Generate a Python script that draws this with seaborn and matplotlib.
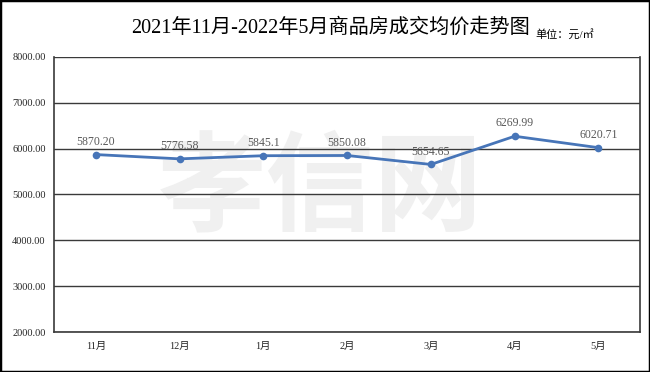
import pandas as pd
import matplotlib.pyplot as plt
import seaborn as sns
import numpy as np
from matplotlib.patches import Rectangle

months = ['11月', '12月', '1月', '2月', '3月', '4月', '5月']
prices = [5870.20, 5776.58, 5845.1, 5850.08, 5654.65, 6269.99, 6020.71]
price_labels = ['5870.20', '5776.58', '5845.1', '5850.08', '5654.65', '6269.99', '6020.71']
y_ticks = [2000, 3000, 4000, 5000, 6000, 7000, 8000]

sns.set_style('white')
plt.rcParams['font.family'] = ['Liberation Serif', 'Noto Sans CJK SC', 'DejaVu Sans']

df = pd.DataFrame({'pos': np.arange(len(months)), 'price': prices})

fig = plt.figure(figsize=(6.5, 3.72), dpi=100)
ax = fig.add_axes([0.083, 0.1075, 0.902, 0.7395])

# watermark
ax.text(2.68, 5100, '孝信网', fontsize=78, color='#f0f0f0', ha='center', va='center',
        family=['Noto Sans CJK SC'], fontweight='bold', zorder=0)

for v in y_ticks:
    ax.axhline(v, color='#3a3a3a', lw=1.0, zorder=1)

sns.lineplot(data=df, x='pos', y='price', ax=ax, color='#4775b8', lw=2,
             marker='o', markersize=5.5, markeredgewidth=0, zorder=3)

for i, (p, lab) in enumerate(zip(prices, price_labels)):
    ax.annotate(lab, (i, p), xytext=(0, 5), textcoords='offset points',
                ha='center', va='bottom', fontsize=8.5, color='#595959')

ax.set_xlim(-0.5, len(months) - 0.5)
ax.set_ylim(2000, 8000)
ax.set_yticks(y_ticks)
ax.set_yticklabels([f'{v:.2f}' for v in y_ticks], fontsize=7.5)
ax.set_xticks(df['pos'])
ax.set_xticklabels(months, fontsize=7.5)
ax.set_xticks(np.arange(-0.5, len(months)), minor=True)
ax.tick_params(axis='x', which='major', length=0, pad=7)
ax.tick_params(axis='x', which='minor', length=4, width=1, color='#3a3a3a', direction='out')
ax.tick_params(axis='y', length=4, width=1, color='#3a3a3a', direction='out', pad=2)
ax.set_xlabel('')
ax.set_ylabel('')
for s in ['left', 'bottom', 'right']:
    ax.spines[s].set_color('#3a3a3a')
    ax.spines[s].set_linewidth(1.2)
ax.spines['top'].set_visible(False)

fig.text(0.508, 0.925, '2021年11月-2022年5月商品房成交均价走势图', ha='center', va='center',
         fontsize=14.5, color='black')
fig.text(0.823, 0.908, '单位：元/㎡', ha='left', va='center', fontsize=8, color='black')

fig.patches.append(Rectangle((0, 0), 1, 1, transform=fig.transFigure, fill=False,
                             edgecolor='black', lw=2.5, zorder=10))

fig.savefig('out.png', dpi=100)
